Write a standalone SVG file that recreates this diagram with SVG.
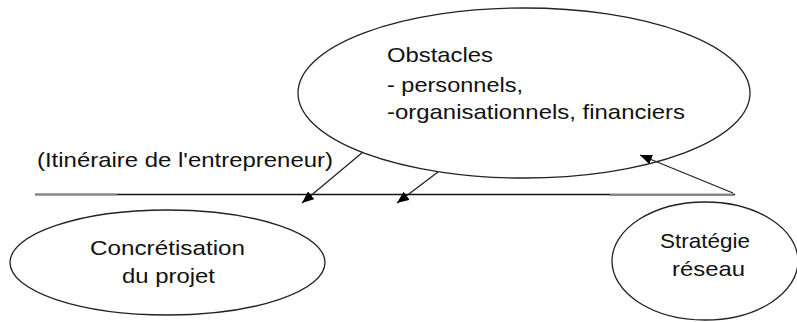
<svg xmlns="http://www.w3.org/2000/svg" width="797" height="322" viewBox="0 0 797 322">
<style>
.node ellipse{fill:#fff;stroke:#222;stroke-width:1.3}
text{font-family:"Liberation Sans",Arial,sans-serif;font-size:21px;fill:#111}
.conn line{stroke:#222;stroke-width:1.3}
</style>
<defs>
<marker id="ah" viewBox="0 0 12 10" refX="12" refY="5" markerWidth="12" markerHeight="10" markerUnits="userSpaceOnUse" orient="auto">
<path d="M0,0 L12,5 L0,10 Z" fill="#000"/>
</marker>
</defs>
<g id="line">
<line x1="35" y1="194.5" x2="735" y2="194.5" stroke="#111" stroke-width="1.3"/>
<line x1="35" y1="194.5" x2="117" y2="194.5" stroke="#888" stroke-width="2"/>
<line x1="610" y1="195" x2="733" y2="195" stroke="#888" stroke-width="2"/>
</g>
<g id="obstacles" class="node">
<ellipse cx="524" cy="93" rx="226" ry="85"/>
<text x="387" y="62" textLength="106" lengthAdjust="spacingAndGlyphs">Obstacles</text>
<text x="387" y="92" textLength="136" lengthAdjust="spacingAndGlyphs">- personnels,</text>
<text x="387" y="119" textLength="298" lengthAdjust="spacingAndGlyphs">-organisationnels, financiers</text>
</g>
<g id="itineraire">
<text x="37" y="167" textLength="296" lengthAdjust="spacingAndGlyphs">(Itinéraire de l'entrepreneur)</text>
</g>
<g id="concretisation" class="node">
<ellipse cx="167.5" cy="262.5" rx="157.5" ry="52.5"/>
<text x="90" y="255" textLength="155" lengthAdjust="spacingAndGlyphs">Concrétisation</text>
<text x="122" y="283" textLength="93" lengthAdjust="spacingAndGlyphs">du projet</text>
</g>
<g id="strategie" class="node">
<ellipse cx="705" cy="261" rx="93" ry="59"/>
<text x="660" y="248" textLength="90" lengthAdjust="spacingAndGlyphs">Stratégie</text>
<text x="672" y="276" textLength="73" lengthAdjust="spacingAndGlyphs">réseau</text>
</g>
<g id="connectors" class="conn">
<line x1="363" y1="152" x2="302" y2="203" marker-end="url(#ah)"/>
<line x1="438" y1="172" x2="397" y2="203" marker-end="url(#ah)"/>
<line x1="733" y1="193" x2="640" y2="155" marker-end="url(#ah)"/>
</g>
</svg>
